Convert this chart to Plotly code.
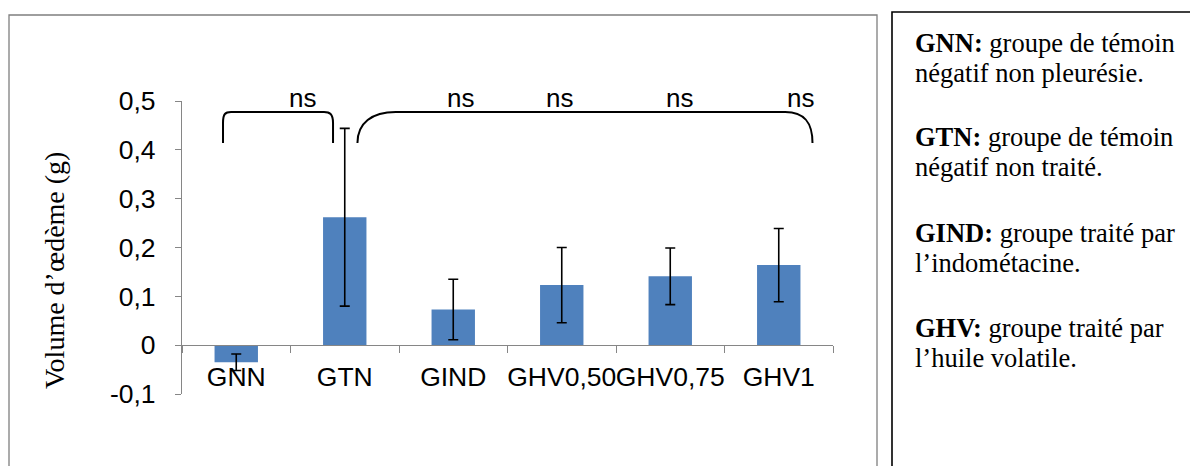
import plotly.graph_objects as go

# ---- data ----
categories = ["GNN", "GTN", "GIND", "GHV0,50", "GHV0,75", "GHV1"]
values = [-0.035, 0.262, 0.073, 0.123, 0.141, 0.164]
errors = [0.017, 0.182, 0.062, 0.077, 0.058, 0.075]
y_tick_vals = [-0.1, 0, 0.1, 0.2, 0.3, 0.4, 0.5]
y_tick_text = ["-0,1", "0", "0,1", "0,2", "0,3", "0,4", "0,5"]
sig_labels = ["ns", "ns", "ns", "ns", "ns"]
y_title = "Volume d\u2019\u0153d\u00e8me (g)"
legend_lines = [
    ("GNN:", "groupe de témoin"), ("", "négatif non pleurésie."),
    ("GTN:", "groupe de témoin"), ("", "négatif non traité."),
    ("GIND:", "groupe traité par"), ("", "l\u2019indométacine."),
    ("GHV:", "groupe traité par"), ("", "l\u2019huile volatile."),
]

x_pos = list(range(len(categories)))

# ---- geometry (pixels) ----
W, H = 1190, 466
L, R, T, B = 182, 833, 101, 394
pw, ph = R - L, B - T


def px(xp):
    return (xp - L) / pw


def py(yp):
    return (B - yp) / ph


SANS = "Liberation Sans, Arial"
SERIF = "Liberation Serif, Times New Roman"

fig = go.Figure()
fig.add_trace(go.Bar(
    x=x_pos, y=values, width=0.4,
    marker=dict(color="#4F81BD", line=dict(width=0)),
    error_y=dict(type="data", array=errors, color="black", thickness=1.6, width=5),
))

# brackets (data coords)
fig.add_shape(type="path",
              path="M -0.122,0.414 L -0.122,0.455 C -0.122,0.474 -0.10,0.4775 -0.048,0.4775 "
                   "L 0.809,0.4775 C 0.86,0.4775 0.892,0.474 0.892,0.455 L 0.892,0.414",
              xref="x", yref="y", line=dict(color="black", width=2))
fig.add_shape(type="path",
              path="M 1.117,0.414 C 1.117,0.455 1.25,0.4775 1.47,0.4775 "
                   "L 5.06,0.4775 C 5.24,0.4775 5.311,0.455 5.311,0.414",
              xref="x", yref="y", line=dict(color="black", width=2))

sig_x = [0.606, 2.071, 2.975, 4.085, 5.196]
for sx, lab in zip(sig_x, sig_labels):
    fig.add_annotation(x=sx, y=py(98), xref="x", yref="paper", text=lab, showarrow=False,
                       font=dict(family=SANS, size=26, color="black"),
                       xanchor="center", yanchor="middle")

# y title
fig.add_annotation(x=px(54), y=py(271), xref="paper", yref="paper", text=y_title,
                   textangle=-90, showarrow=False, xanchor="center", yanchor="middle",
                   font=dict(family=SERIF, size=28, color="black"))

# chart frame
fig.add_shape(type="rect", xref="paper", yref="paper",
              x0=px(9), x1=px(877), y0=py(475), y1=py(15),
              line=dict(color="#7f7f7f", width=1.3), layer="below")
# text box frame
fig.add_shape(type="rect", xref="paper", yref="paper",
              x0=px(892), x1=px(1200), y0=py(475), y1=py(12),
              line=dict(color="black", width=1.6), layer="below")

line_y = [43, 73, 137, 167, 233, 263, 328, 358]
for (bold, rest), ly in zip(legend_lines, line_y):
    txt = (f"<b>{bold}</b> " if bold else "") + rest
    fig.add_annotation(x=px(913), y=py(ly), xref="paper", yref="paper", text=txt,
                       showarrow=False, xanchor="left", yanchor="middle", align="left",
                       font=dict(family=SERIF, size=26.5, color="black"))

fig.update_layout(
    width=W, height=H,
    margin=dict(l=L, r=W - R, t=T, b=H - B, pad=0),
    paper_bgcolor="white", plot_bgcolor="white",
    showlegend=False,
    xaxis=dict(range=[-0.5, 5.5], tickvals=x_pos, ticktext=categories,
               anchor="free", position=1 / 6, tickangle=0,
               showline=True, linecolor="#868686", linewidth=1.3,
               ticks="", showgrid=False, zeroline=False,
               ticklabelstandoff=8,
               tickfont=dict(family=SANS, size=26.5, color="black"),
               minor=dict(tickmode="linear", tick0=-0.5, dtick=1, ticks="outside",
                          ticklen=7, tickcolor="#868686", tickwidth=1.3, showgrid=False)),
    yaxis=dict(range=[-0.1, 0.5], tickvals=y_tick_vals, ticktext=y_tick_text,
               showline=True, linecolor="#868686", linewidth=1.3,
               ticks="outside", ticklen=6, tickcolor="#868686", tickwidth=1.3,
               showgrid=False, zeroline=False, ticklabelstandoff=14,
               tickfont=dict(family=SANS, size=26.5, color="black")),
)

fig.write_html("out.html", config={"displayModeBar": False},
               post_script="document.body.style.margin='0';")
